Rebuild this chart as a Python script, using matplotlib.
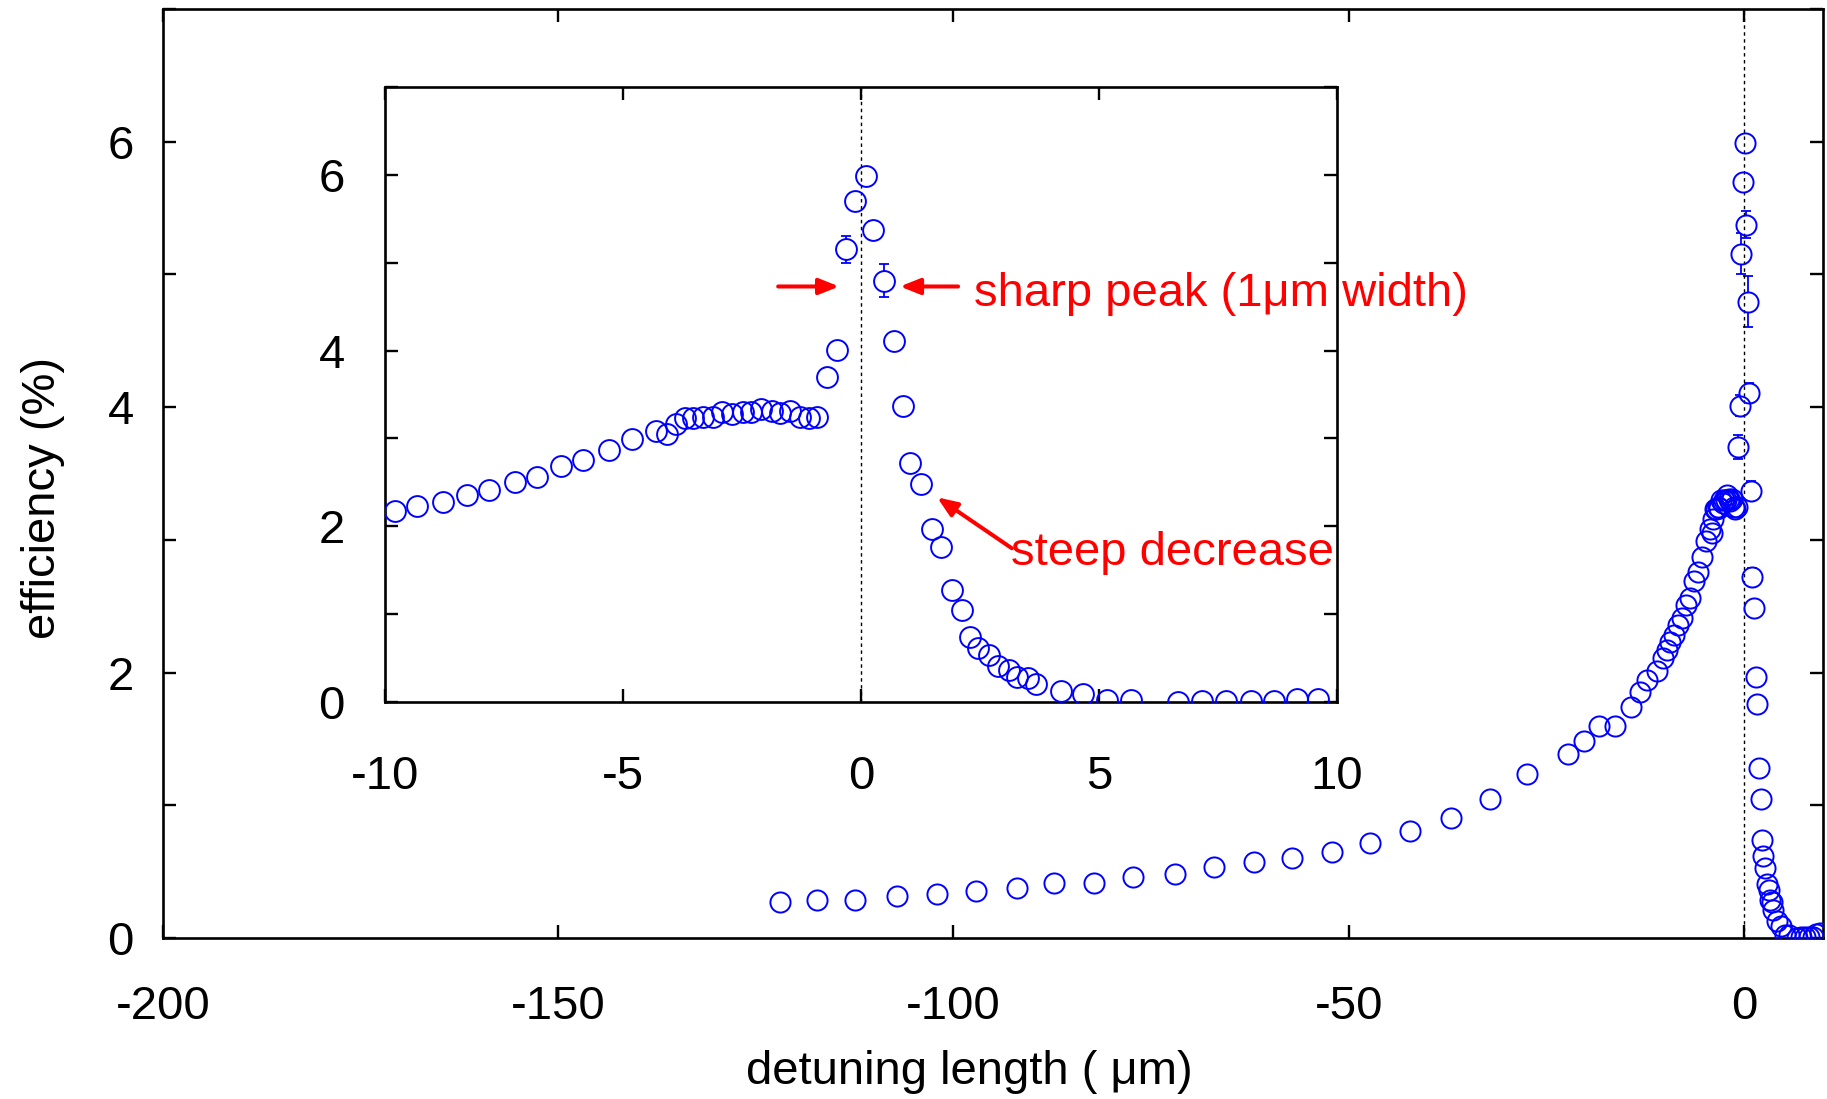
import numpy as np
import matplotlib
matplotlib.use("Agg")
import matplotlib.pyplot as plt

plt.rcParams['font.family'] = ['Liberation Sans', 'DejaVu Sans']
plt.rcParams['font.size'] = 34
plt.rcParams['axes.unicode_minus'] = False

# detuning length (um) and efficiency (%)
detuning = [-122.0, -117.3, -112.4, -107.2, -102.1, -97.2, -91.9, -87.3, -82.2, -77.3,
            -72.0, -67.1, -62.0, -57.2, -52.1, -47.3, -42.2, -37.0, -32.1, -27.4,
            -22.3, -20.2, -18.3, -16.3, -14.3, -13.2, -12.2, -11.0, -10.3,
            -9.79, -9.32, -8.79, -8.28, -7.82, -7.27, -6.81, -6.30, -5.83, -5.29,
            -4.82, -4.31, -4.08, -3.89, -3.70, -3.52, -3.31, -3.10, -2.91, -2.70,
            -2.47, -2.31, -2.09, -1.86, -1.70, -1.49, -1.28, -1.09, -0.93, -0.72,
            -0.50, -0.315, -0.126, 0.105, 0.26, 0.483, 0.70, 0.89, 1.04, 1.27,
            1.49, 1.68, 1.91, 2.12, 2.30, 2.46, 2.69, 2.87, 3.11, 3.27,
            3.50, 3.68, 4.20, 4.67, 5.17, 5.67, 6.67, 7.16, 7.67, 8.19,
            8.68, 9.17, 9.6]
efficiency = [0.273, 0.286, 0.286, 0.319, 0.331, 0.354, 0.379, 0.412, 0.412, 0.457,
              0.480, 0.537, 0.570, 0.600, 0.645, 0.713, 0.807, 0.904, 1.044, 1.235,
              1.39, 1.483, 1.596, 1.596, 1.742, 1.855, 1.943, 2.013, 2.11,
              2.17, 2.23, 2.28, 2.36, 2.41, 2.51, 2.56, 2.69, 2.76, 2.87,
              2.99, 3.08, 3.05, 3.16, 3.23, 3.23, 3.25, 3.24, 3.30, 3.28,
              3.30, 3.30, 3.34, 3.31, 3.29, 3.31, 3.25, 3.23, 3.25, 3.70,
              4.01, 5.155, 5.70, 5.99, 5.375, 4.795, 4.11, 3.37, 2.72, 2.485,
              1.97, 1.765, 1.28, 1.045, 0.74, 0.62, 0.53, 0.41, 0.36, 0.29,
              0.27, 0.21, 0.125, 0.09, 0.02, 0.02, 0.00, 0.01, 0.01, 0.01,
              0.01, 0.03, 0.04]
# error bars only on a few points near the peak
err_x = [-0.72, -0.50, -0.315, 0.26, 0.483, 0.70, 0.89, 1.04]
err_y = [3.70, 4.01, 5.155, 5.375, 4.795, 4.11, 3.37, 2.72]
err_v = [0.09, 0.08, 0.155, 0.10, 0.19, 0.07, 0.07, 0.07]

blue = '#0000ff'
red = '#ff0000'

fig = plt.figure(figsize=(18.27, 10.99), dpi=100)
ax = fig.add_axes([0.0892, 0.1465, 0.9086, 0.8453])
axin = fig.add_axes([0.2107, 0.3612, 0.5211, 0.5596])


def style(a, ms, xpad, ypad):
    a.errorbar(err_x, err_y, yerr=err_v, fmt='none', ecolor=blue, elinewidth=1.3,
               capsize=3.5, capthick=1.3, zorder=2)
    # blank the bar inside the open circles
    a.plot(err_x, err_y, 'o', mfc='white', mec='none', ms=ms - 1, zorder=2.5)
    a.axvline(0, color='black', lw=1.0, ls=(0, (2.5, 2.5)), zorder=2.7)
    a.plot(detuning, efficiency, 'o', mfc='none', mec=blue, ms=ms, mew=1.4, zorder=3)
    for s in a.spines.values():
        s.set_linewidth(1.9)
    a.tick_params(which='both', direction='in', length=9.5, width=1.7,
                  top=True, right=True)
    a.tick_params(axis='x', pad=xpad)
    a.tick_params(axis='y', pad=ypad)
    a.set_ylim(0, 7)
    a.set_yticks([0, 2, 4, 6])
    a.set_yticks([1, 3, 5, 7], minor=True)


style(ax, 14.5, 34, 21)
ax.set_xlim(-200, 10)
ax.set_xticks([-200, -150, -100, -50, 0])
ax.set_ylabel('efficiency (%)')
ax.set_xlabel('detuning length ( μm)')
ax.yaxis.set_label_coords(-0.059, 0.4736)
ax.xaxis.set_label_coords(0.4855, -0.1205)

style(axin, 15, 38, 29)
axin.set_xlim(-10, 10)
axin.set_xticks([-10, -5, 0, 5, 10])

arrow = dict(arrowstyle='-|>,head_length=0.4,head_width=0.16', color=red, lw=2.9,
             mutation_scale=30, shrinkA=0, shrinkB=0)
axin.annotate('', xy=(-0.46, 4.73), xytext=(-1.74, 4.73), arrowprops=arrow,
              annotation_clip=False)
axin.annotate('', xy=(0.82, 4.73), xytext=(2.04, 4.73), arrowprops=arrow,
              annotation_clip=False)
axin.annotate('', xy=(1.60, 2.33), xytext=(3.17, 1.75), arrowprops=arrow,
              annotation_clip=False)
axin.text(2.37, 4.64, 'sharp peak (1μm width)', color=red, ha='left', va='center',
          clip_on=False, zorder=5)
axin.text(3.15, 1.70, 'steep decrease', color=red, ha='left', va='center',
          clip_on=False, zorder=5)

fig.savefig('out.png', dpi=100)
